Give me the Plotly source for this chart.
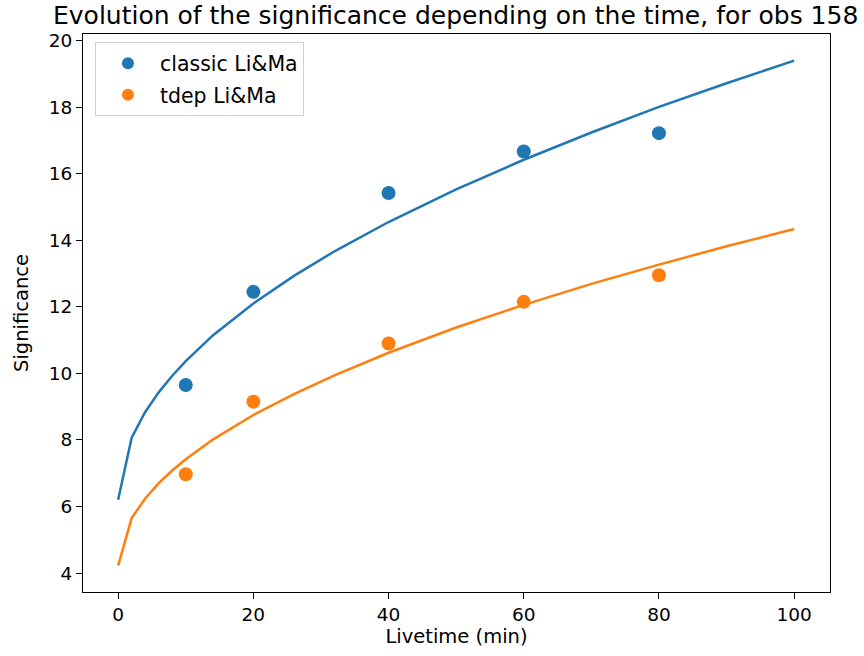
import plotly.graph_objects as go

# Measured points
livetime = [10, 20, 40, 60, 80]
classic_sig = [9.65, 12.45, 15.42, 16.67, 17.22]
tdep_sig = [6.97, 9.15, 10.9, 12.15, 12.95]

# Fitted curves
fit_t = [0, 2, 4, 6, 8, 10, 14, 20, 26, 32, 40, 50, 60, 70, 80, 90, 100]
classic_fit = [6.20, 8.07, 8.84, 9.43, 9.93, 10.37, 11.14, 12.10, 12.93, 13.67,
               14.55, 15.53, 16.42, 17.24, 18.01, 18.72, 19.40]
tdep_fit = [4.22, 5.65, 6.24, 6.70, 7.08, 7.42, 8.01, 8.75, 9.38, 9.94,
            10.62, 11.38, 12.06, 12.69, 13.27, 13.82, 14.34]

x_ticks = [0, 20, 40, 60, 80, 100]
y_ticks = [4, 6, 8, 10, 12, 14, 16, 18, 20]

BLUE = "#1f77b4"
ORANGE = "#ff7f0e"
FONT = "DejaVu Sans"

fig = go.Figure()
fig.add_trace(go.Scatter(x=fit_t, y=classic_fit, mode="lines",
                         line=dict(color=BLUE, width=2.5), showlegend=False))
fig.add_trace(go.Scatter(x=fit_t, y=tdep_fit, mode="lines",
                         line=dict(color=ORANGE, width=2.5), showlegend=False))
fig.add_trace(go.Scatter(x=livetime, y=classic_sig, mode="markers", name="classic Li&Ma",
                         legendgroup="a", marker=dict(color=BLUE, size=14)))
fig.add_trace(go.Scatter(x=livetime, y=tdep_sig, mode="markers", name="tdep Li&Ma",
                         legendgroup="b", marker=dict(color=ORANGE, size=14)))

axis_common = dict(showgrid=False, zeroline=False, showline=True, mirror=True,
                   linecolor="black", linewidth=1.2, ticks="outside", ticklen=6,
                   tickwidth=1.2, tickcolor="black",
                   tickfont=dict(family=FONT, size=18.5, color="black"))

fig.update_layout(
    width=864, height=656,
    margin=dict(l=83, r=34, t=34, b=64),
    paper_bgcolor="white", plot_bgcolor="white",
    font=dict(family=FONT, size=18, color="black"),
    title=dict(text="Evolution of the significance depending on the time, for obs 158",
               x=53 / 864, xanchor="left", xref="container",
               y=1 - 15 / 656, yanchor="middle", yref="container",
               font=dict(family=FONT, size=25, color="black")),
    xaxis=dict(range=[-5.2, 105.3], tickvals=x_ticks,
               title=dict(text="Livetime (min)", standoff=5,
                          font=dict(family=FONT, size=19.5, color="black")),
               **axis_common),
    yaxis=dict(range=[3.43, 20.2], tickvals=y_ticks,
               title=dict(text="Significance", standoff=14,
                          font=dict(family=FONT, size=19.5, color="black")),
               **axis_common),
    legend=dict(x=0.016, y=0.985, xanchor="left", yanchor="top",
                bgcolor="rgba(255,255,255,0.8)", bordercolor="#d0d0d0", borderwidth=1,
                font=dict(family=FONT, size=20.5, color="black"),
                itemwidth=54, tracegroupgap=2, traceorder="grouped",
                itemsizing="constant"),
)

fig.write_html("out.html")
